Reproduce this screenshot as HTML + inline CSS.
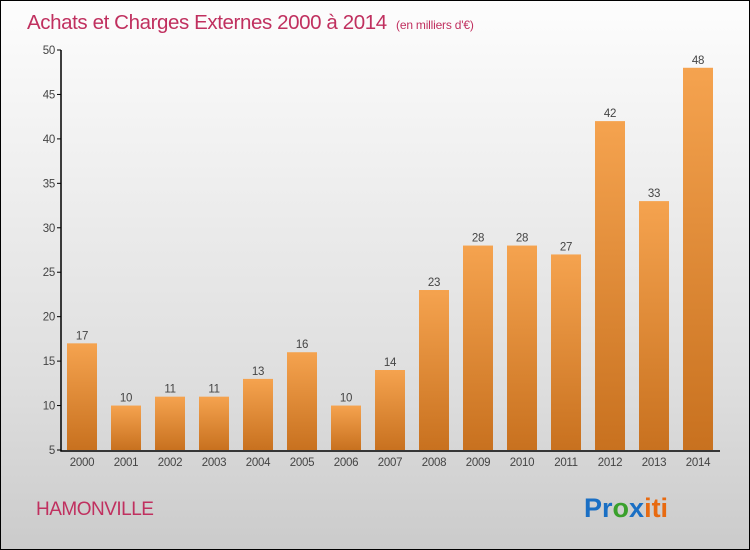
<!DOCTYPE html>
<html><head><meta charset="utf-8"><style>
body{margin:0}
#c{width:750px;height:550px;position:relative;box-sizing:border-box;border:1px solid #000;background:linear-gradient(#fdfdfd,#f4f4f4 20%,#dedede 70%,#cbcbcb);font-family:"Liberation Sans",sans-serif;overflow:hidden}
</style></head><body>
<div id="c">
<svg width="750" height="550" style="position:absolute;left:-1px;top:-1px">
<defs><linearGradient id="g" x1="0" y1="0" x2="0" y2="1"><stop offset="0" stop-color="#f5a34f"/><stop offset="1" stop-color="#c8711f"/></linearGradient></defs>
<text x="27" y="29" font-size="20.5" letter-spacing="-0.4" fill="#c0305f">Achats et Charges Externes 2000 à 2014 <tspan font-size="12" dx="4" letter-spacing="-0.2">(en milliers d'€)</tspan></text>
<g id="plot"></g>
<text x="36" y="515" font-size="19" letter-spacing="-0.5" fill="#c0305f">HAMONVILLE</text>
<text x="584" y="517" font-size="27" font-weight="bold"><tspan fill="#1a6fc4">Pr</tspan><tspan fill="#3aa02c">o</tspan><tspan fill="#1a6fc4">x</tspan><tspan fill="#e86a10">iti</tspan></text>
</svg>
</div>
<script>
const years=["2000","2001","2002","2003","2004","2005","2006","2007","2008","2009","2010","2011","2012","2013","2014"];
const values=[17,10,11,11,13,16,10,14,23,28,28,27,42,33,48];
const yTicks=[5,10,15,20,25,30,35,40,45,50];
const NS="http://www.w3.org/2000/svg";
const g=document.getElementById('plot');
const y=v=>450-(v-5)*400/45;
const x=i=>67+i*44;
function mk(t,a){const e=document.createElementNS(NS,t);for(const k in a)e.setAttribute(k,a[k]);g.appendChild(e);return e;}
let ax=mk('path',{d:'M61 50V451H720',stroke:'#000','stroke-width':1.5,fill:'none'});


yTicks.forEach(t=>{
 const l=mk('line',{x1:57,x2:61,y1:y(t),y2:y(t),stroke:'#000'});
 
 
 const tx=mk('text',{x:55,y:y(t)+4,'font-size':11.5,fill:'#444','text-anchor':'end','letter-spacing':-0.3});tx.textContent=t;
 
 
});
values.forEach((v,i)=>{
 const r=mk('rect',{x:x(i),y:y(v),width:30,height:450-y(v),fill:'url(#g)'});
 
 
 const t=mk('text',{x:x(i)+15,y:y(v)-4,'font-size':11.5,fill:'#444','text-anchor':'middle','letter-spacing':-0.3});t.textContent=v;
 
 
 const xl=mk('text',{x:x(i)+15,y:466,'font-size':11.5,fill:'#444','text-anchor':'middle','letter-spacing':-0.3});xl.textContent=years[i];
 
 
});
</script>
</body></html>
